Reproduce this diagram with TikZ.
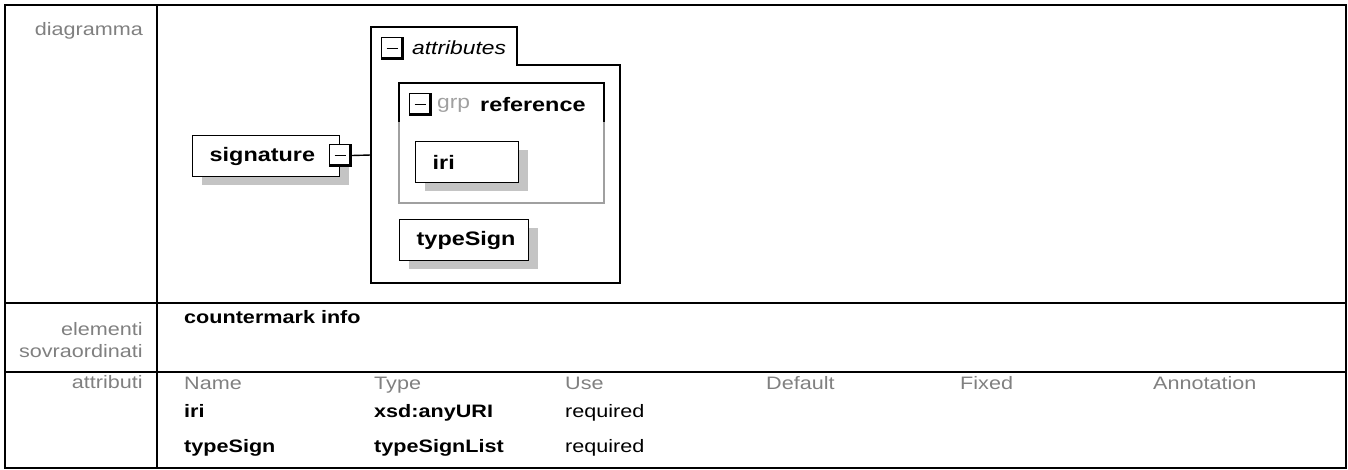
\documentclass[tikz,border=0pt]{standalone}
\usepackage{fontspec}
\setmainfont[FakeStretch=1.2]{Liberation Sans}
\usetikzlibrary{shadows}
\definecolor{lblgray}{HTML}{808080}
\definecolor{shadowgray}{HTML}{C4C4C4}
\definecolor{grpgray}{HTML}{A0A0A0}
\newcommand\lblfnt{\fontsize{18}{21}\selectfont}
\newcommand\elfnt{\fontsize{19.5}{22}\selectfont\bfseries}
\newcommand\dgfnt{\fontsize{19}{22}\selectfont}
\tikzset{
  tableline/.style={line width=2.2pt, black},
  rowlabel/.style={anchor=base east, inner sep=0pt, text=lblgray, font=\lblfnt},
  colhead/.style={anchor=base west, inner sep=0pt, text=lblgray, font=\lblfnt},
  cellbold/.style={anchor=base west, inner sep=0pt, font=\lblfnt\bfseries},
  cellplain/.style={anchor=base west, inner sep=0pt, font=\lblfnt},
  elembox/.style={draw, line width=1.4pt, fill=white, anchor=north west,
    inner xsep=17pt, inner ysep=0pt, minimum height=41pt, align=left, font=\elfnt,
    drop shadow={shadow xshift=9pt, shadow yshift=-8pt, fill=shadowgray, opacity=1}},
  minusbox/.style={draw, line width=1pt, fill=white, minimum width=22pt, minimum height=22pt,
    inner sep=0pt, anchor=north west,
    path picture={
      \draw[line width=5pt] (path picture bounding box.north east) -- (path picture bounding box.south east) -- (path picture bounding box.south west);
      \draw[line width=1.8pt] ([xshift=5pt]path picture bounding box.west) -- ([xshift=-6pt]path picture bounding box.east);
    }},
  conn/.style={line width=1.4pt, black},
}
\begin{document}
\begin{tikzpicture}[x=1pt,y=-1pt]
\useasboundingbox (0,0) rectangle (1348,470);
% table frame
\draw[tableline] (5,5) rectangle (1346,468);
\draw[tableline] (157,5) -- (157,468);
\draw[tableline] (5,303) -- (1346,303);
\draw[tableline] (5,372) -- (1346,372);

% row labels
\node[rowlabel] (ldiag) at (143,36) {diagramma};
\node[rowlabel] (lel1) at (143,335) {elementi};
\node[rowlabel] (lel2) at (143,357) {sovraordinati};
\node[rowlabel] (lattr) at (143,388) {attributi};

% parent elements
\node[cellbold] (parent) at (184,323) {countermark info};

% attribute table
\node[colhead] (hname) at (184,389) {Name};
\node[colhead] (htype) at (374,389) {Type};
\node[colhead] (huse) at (565,389) {Use};
\node[colhead] (hdef) at (766,389) {Default};
\node[colhead] (hfix) at (960,389) {Fixed};
\node[colhead] (hann) at (1153,389) {Annotation};
\node[cellbold] (r1name) at (184,417) {iri};
\node[cellbold] (r1type) at (374,417) {xsd:anyURI};
\node[cellplain] (r1use) at (565,417) {required};
\node[cellbold] (r2name) at (184,452) {typeSign};
\node[cellbold] (r2type) at (374,452) {typeSignList};
\node[cellplain] (r2use) at (565,452) {required};

% diagram: attributes container
\draw[line width=1.4pt] (371,27) -- (517,27) -- (517,65) -- (620,65) -- (620,283) -- (371,283) -- cycle;
\node[minusbox] (attrminus) at (381,37) {};
\node[anchor=west, inner sep=0pt, font=\dgfnt\itshape] (attrlbl) at (412,48) {attributes};
\coordinate (attrL) at (371,155);

% group reference
\draw[line width=1.4pt, grpgray] (399,83) rectangle (604,203);
\draw[line width=1.4pt] (399,122) -- (399,83) -- (604,83) -- (604,122);
\node[minusbox] (grpminus) at (409,93) {};
\node[anchor=west, inner sep=0pt, font=\dgfnt, text=grpgray] (grplbl) at (437,105) {grp};
\node[anchor=west, inner sep=0pt, font=\elfnt] (reflbl) at (480,105) {reference};

% elements
\node[elembox, text width=69pt] (iri) at (415,141) {iri};
\node[elembox, text width=95pt] (typesign) at (399,219) {typeSign};
\node[elembox, text width=113pt] (signature) at (192,135) {signature};
\node[minusbox] (sigminus) at (329,144) {};
\draw[conn] (sigminus.east) -- (attrL);
\end{tikzpicture}
\end{document}
